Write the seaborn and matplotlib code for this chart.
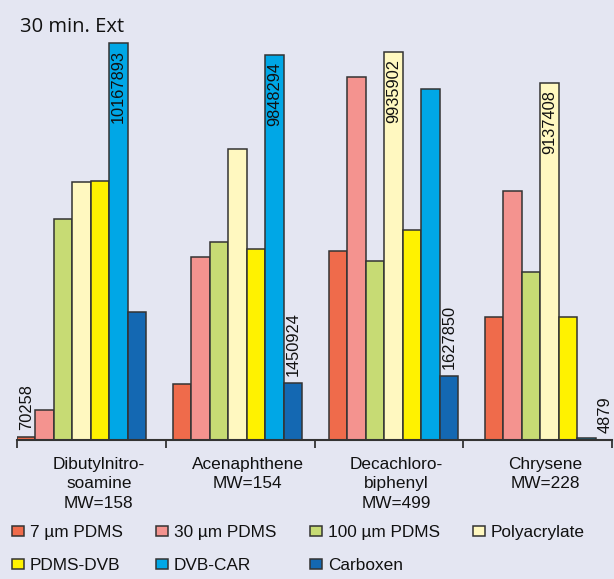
import numpy as np
import pandas as pd
import matplotlib
matplotlib.use("Agg")
import matplotlib.pyplot as plt
import seaborn as sns
from matplotlib.patches import Patch
from matplotlib.ticker import FixedLocator

# ---------------- data ----------------
compounds = ["Dibutylnitro-\nsoamine\nMW=158", "Acenaphthene\nMW=154",
             "Decachloro-\nbiphenyl\nMW=499", "Chrysene\nMW=228"]
fibers = ["7 µm PDMS", "30 µm PDMS", "100 µm PDMS", "Polyacrylate",
          "PDMS-DVB", "DVB-CAR", "Carboxen"]
fiber_colors = ["#ef6b4b", "#f4938f", "#c7db74", "#fff8c0",
                "#fff200", "#00a7e6", "#1468b2"]

pdms7 = [70258, 1430000, 4840000, 3150000]
pdms30 = [768000, 4690000, 9300000, 6380000]
pdms100 = [5660000, 5070000, 4580000, 4300000]
polyacrylate = [6610000, 7450000, 9935902, 9137408]
pdms_dvb = [6630000, 4890000, 5380000, 3150000]
dvb_car = [10167893, 9848294, 8990000, 60000]
carboxen = [3280000, 1450924, 1627850, 4879]

# value labels: (fiber, compound index, text, placement)
value_labels = [
    ("7 µm PDMS", 0, "70258", "above"),
    ("DVB-CAR", 0, "10167893", "inside"),
    ("DVB-CAR", 1, "9848294", "inside"),
    ("Carboxen", 1, "1450924", "above"),
    ("Polyacrylate", 2, "9935902", "inside"),
    ("Carboxen", 2, "1627850", "above"),
    ("Polyacrylate", 3, "9137408", "inside"),
    ("Carboxen", 3, "4879", "above"),
]

series = [pdms7, pdms30, pdms100, polyacrylate, pdms_dvb, dvb_car, carboxen]
rows = []
for f, vals in zip(fibers, series):
    for c, v in zip(compounds, vals):
        rows.append({"compound": c, "fiber": f, "value": v})
df = pd.DataFrame(rows)

# ---------------- style ----------------
BG = "#e4e6f2"
EDGE = "#333333"
TXT = "#111111"
W, H = 614, 579
plt.rcParams["font.family"] = ["Liberation Sans", "DejaVu Sans"]

fig = plt.figure(figsize=(W / 100, H / 100), dpi=100, facecolor=BG)
ax_left, ax_right, ax_base, ax_top = 17, 612, 440, 20
ax = fig.add_axes([ax_left / W, 1 - ax_base / H, (ax_right - ax_left) / W,
                   (ax_base - ax_top) / H])
ax.set_facecolor(BG)

sns.barplot(data=df, x="compound", y="value", hue="fiber", order=compounds,
            hue_order=fibers, palette=fiber_colors, width=0.827, saturation=1,
            edgecolor=EDGE, linewidth=1.1, errorbar=None, legend=False, ax=ax)

px_per_unit = 156.0
group0_px = 81.5
def px2data(px):
    return (px - group0_px) / px_per_unit

ax.set_xlim(px2data(ax_left), px2data(ax_right))
ax.set_ylim(0, (ax_base - ax_top) * 25612)

# ticks at boundaries (minor), labels (major) slightly offset
bounds_px = np.linspace(ax_left, ax_right, 5)
mids_px = (bounds_px[:-1] + bounds_px[1:]) / 2 + 7.5
ax.xaxis.set_minor_locator(FixedLocator([px2data(p) for p in bounds_px]))
ax.set_xticks([px2data(p) for p in mids_px])
ax.set_xticklabels(compounds, fontsize=12.4, color=TXT, linespacing=1.38)
ax.tick_params(axis="x", which="major", length=0, pad=12)
ax.tick_params(axis="x", which="minor", length=5.5, width=1.3, color=EDGE,
               direction="out")
ax.set_yticks([])
ax.set_xlabel("")
ax.set_ylabel("")
for s in ["top", "right", "left"]:
    ax.spines[s].set_visible(False)
ax.spines["bottom"].set_color(EDGE)
ax.spines["bottom"].set_linewidth(1.5)

# value labels
for fiber, ci, text, where in value_labels:
    patch = ax.containers[fibers.index(fiber)][ci]
    xc = patch.get_x() + patch.get_width() / 2
    top = patch.get_height()
    if where == "inside":
        ax.annotate(text, xy=(xc, top), xytext=(0, -7), textcoords="offset pixels",
                    rotation=90, ha="center", va="top", fontsize=11.8, color=TXT)
    else:
        ax.annotate(text, xy=(xc, top), xytext=(0, 7), textcoords="offset pixels",
                    rotation=90, ha="center", va="bottom", fontsize=11.8, color=TXT)

# legend
handles = [Patch(facecolor=c, edgecolor=EDGE, linewidth=1.1) for c in fiber_colors]
order = [0, 4, 1, 5, 2, 6, 3]
fig.legend([handles[i] for i in order], [fibers[i] for i in order], ncol=4,
           loc="upper left", bbox_to_anchor=(12 / W, 1 - 525 / H), frameon=False,
           fontsize=12.4, handlelength=0.68, handleheight=0.55, handletextpad=0.35,
           columnspacing=1.95, labelspacing=1.05, borderpad=0, borderaxespad=0,
           labelcolor=TXT)

fig.text(20 / W, 1 - 32 / H, "30 min. Ext", fontsize=14.5, color=TXT,
         family=["Open Sans", "DejaVu Sans"], va="baseline", ha="left")

fig.savefig("out.png", dpi=100, facecolor=BG)
